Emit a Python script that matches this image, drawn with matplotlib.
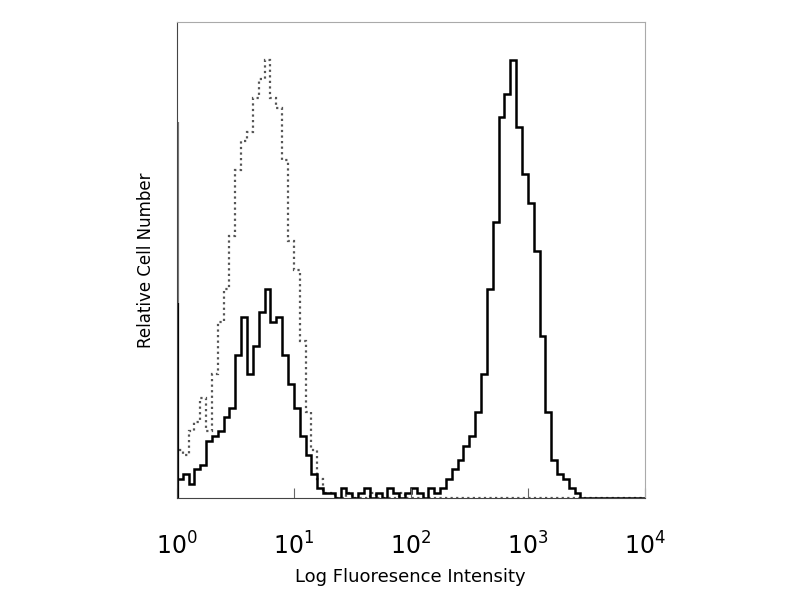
import matplotlib.pyplot as plt
import numpy as np

# channel bins: 80 bins over four decades (10^0 .. 10^4)
n_bins = 80
decades = 4

# isotype control (dotted trace)
control = [10, 9, 14, 16, 21, 14, 26, 37, 44, 55,
           69, 75, 77, 84, 88, 92, 84, 82, 71, 54,
           48, 33, 18, 10, 4, 1, 1, 0, 0, 1,
           0, 0, 0, 1, 0, 0, 0, 0, 1, 0,
           0, 0, 0, 0, 0, 0, 0, 0, 0, 0,
           0, 0, 0, 0, 0, 0, 0, 0, 0, 0,
           0, 0, 0, 0, 0, 0, 0, 0, 0, 0,
           0, 0, 0, 0, 0, 0, 0, 0, 0, 0]

# stained sample (solid trace)
stained = [4, 5, 3, 6, 7, 12, 13, 14, 17, 19,
           30, 38, 26, 32, 39, 44, 37, 38, 30, 24,
           19, 13, 9, 5, 2, 1, 1, 0, 2, 1,
           0, 1, 2, 0, 1, 0, 2, 1, 0, 1,
           2, 1, 0, 2, 1, 2, 4, 6, 8, 11,
           13, 18, 26, 44, 58, 80, 85, 92, 78, 68,
           62, 52, 34, 18, 8, 5, 4, 2, 1, 0,
           0, 0, 0, 0, 0, 0, 0, 0, 0, 0]

# counts piled up in the first channel (control, stained), drawn on the left edge
first_channel = [79, 41]

tick_vals = [1, 10, 100, 1000, 10000]
tick_labels = ['$10^0$', '$10^1$', '$10^2$', '$10^3$', '$10^4$']

edges = 10 ** np.linspace(0, decades, n_bins + 1)

fig = plt.figure(figsize=(8, 6), dpi=100)
ax = fig.add_axes([0.221, 0.17, 0.585, 0.793])

ax.stairs(control, edges, color='#555555', lw=1.6, linestyle=(0, (1, 1.5)))
ax.stairs(stained, edges, color='black', lw=1.8)
ax.plot([1, 1], [0, first_channel[0]], color='#777777', lw=3, solid_capstyle='butt')
ax.plot([1, 1], [0, first_channel[1]], color='black', lw=3, solid_capstyle='butt')

ax.set_xscale('log')
ax.set_xlim(1, 10000)
ax.set_ylim(0, 100)
ax.set_xticks(tick_vals)
ax.set_xticklabels(tick_labels, fontsize=17)
ax.minorticks_off()
ax.set_yticks([])
ax.tick_params(axis='x', which='major', direction='in', length=7, color='#666666', pad=25)

for side in ['top', 'right']:
    ax.spines[side].set_color('#aaaaaa')
ax.spines['left'].set_color('#444444')
ax.spines['bottom'].set_color('#444444')

ax.set_xlabel('Log Fluoresence Intensity', fontsize=13, labelpad=6)
ax.set_ylabel('Relative Cell Number', fontsize=12, labelpad=16)

fig.savefig('out.png', dpi=100)
